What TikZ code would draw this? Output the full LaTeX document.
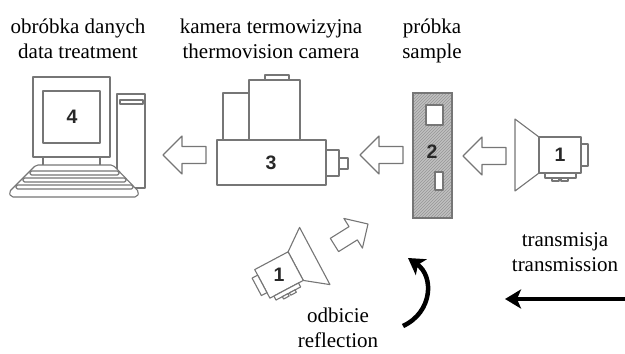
\documentclass[tikz,border=0pt]{standalone}
\usepackage{fontspec}
\setmainfont{Liberation Serif}
\setsansfont{Liberation Sans}
\usetikzlibrary{arrows.meta,patterns}

\definecolor{outline}{RGB}{118,118,118}
\definecolor{digit}{RGB}{40,40,40}
\definecolor{sampfill}{RGB}{192,192,192}
\definecolor{hatch}{RGB}{150,150,150}

\begin{document}
\begin{tikzpicture}[x=1pt,y=-1pt,
  part/.style={draw=outline, line width=1.1pt, fill=white, line join=round},
  num/.style={font=\sffamily\bfseries\fontsize{19.5}{19.5}\selectfont, text=digit, inner sep=0pt},
  caption/.style={font=\fontsize{21}{25}\selectfont, align=center, inner sep=0pt, anchor=base},
  flow/.style={line width=4.5pt, -{Stealth[length=16pt,width=19pt,inset=4pt]}},
  % hollow block arrow, tip at the origin, pointing to -x
  hollow/.pic={
    \draw[part] (0,0) -- (19,-19) -- (19,-8.5) -- (43,-8.5) -- (43,8.5)
      -- (19,8.5) -- (19,19) -- cycle;
  },
  % radiation source: horn towards -x, body centred at the origin
  source/.pic={
    \draw[part] (-21,-18) -- (-45,-36) -- (-45,36) -- (-21,18) -- cycle;
    \draw[part] (-21,-18) rectangle (21,18);
    \draw[part] (21,-11) rectangle (28,11);
    \draw[part] (-15,18) rectangle (16,23);
    \draw[part] (-8,23) rectangle (-1,26);
    \draw[part] (1,23) rectangle (8,26);
    \node[num] (digit) at (0,0) {1};
  }
]
\useasboundingbox (0,0) rectangle (625,354);

% ---- computer (4) ----
\draw[part] (117,94) rectangle (145,188);
\draw[part] (120,100) rectangle (143,104);
\draw[part] (33,77) rectangle (110,157);
\draw[part] (43,91) rectangle (100,143);
\draw[part] (43,157) -- (43,167);
\draw[part] (100,157) -- (100,167);
\draw[part, rounded corners=2pt] (36,165) -- (113,165) -- (139,192) -- (137,197)
  -- (11,197) -- (9,192) -- cycle;
\draw[part, rounded corners=1.5pt] (30,171) rectangle (119,175);
\draw[part, rounded corners=1.5pt] (23,178) rectangle (126,182);
\draw[part, rounded corners=1.5pt] (16,185) rectangle (133,189);
\node[num] (pc) at (72,117) {4};

% ---- thermovision camera (3) ----
\draw[part] (265,75) rectangle (289,80);
\draw[part] (223,93) rectangle (249,140);
\draw[part] (249,80) rectangle (300,140);
\draw[part] (217,140) rectangle (326,185);
\draw[part] (326,150) rectangle (339,176);
\draw[part] (339,158) rectangle (348,169);
\node[num] (cam) at (271,163) {3};

% ---- sample (2) ----
\fill[sampfill] (413,93) rectangle (452,218);
\fill[pattern=north east lines, pattern color=hatch] (413,93) rectangle (452,218);
\draw[draw=outline, line width=1.1pt] (413,93) rectangle (452,218);
\draw[part] (426,105) rectangle (443,125);
\draw[part] (435,172) rectangle (443,190);
\node[num] (smp) at (432,152) {2};

% ---- sources (1) ----
\pic (srcT) at (560,155) {source};
\pic[rotate=28, xscale=-1, scale=0.9] (srcR) at (279,275) {source};

% ---- hollow flow arrows ----
\pic at (163,155) {hollow};
\pic at (360,155) {hollow};
\pic at (463,156) {hollow};
\pic[rotate=-148, scale=0.92] at (368,224) {hollow};

% ---- transmission and reflection arrows ----
\coordinate (trStart) at (625,299);
\coordinate (trEnd) at (505,299);
\draw[flow] (trStart) -- (trEnd);
\coordinate (rfStart) at (403,326);
\coordinate (rfEnd) at (408,258);
\draw[flow] (rfStart) .. controls (433,312) and (434,276) .. (rfEnd);

% ---- captions (base anchor sits on the last line) ----
\node[caption] (capPC) at (78,58) {obróbka danych\\data treatment};
\node[caption] (capCam) at (271,58) {kamera termowizyjna\\thermovision camera};
\node[caption] (capSmp) at (432,58) {próbka\\sample};
\node[caption] (capTr) at (565,271) {transmisja\\transmission};
\node[caption] (capRf) at (338,347) {odbicie\\reflection};
\end{tikzpicture}
\end{document}
